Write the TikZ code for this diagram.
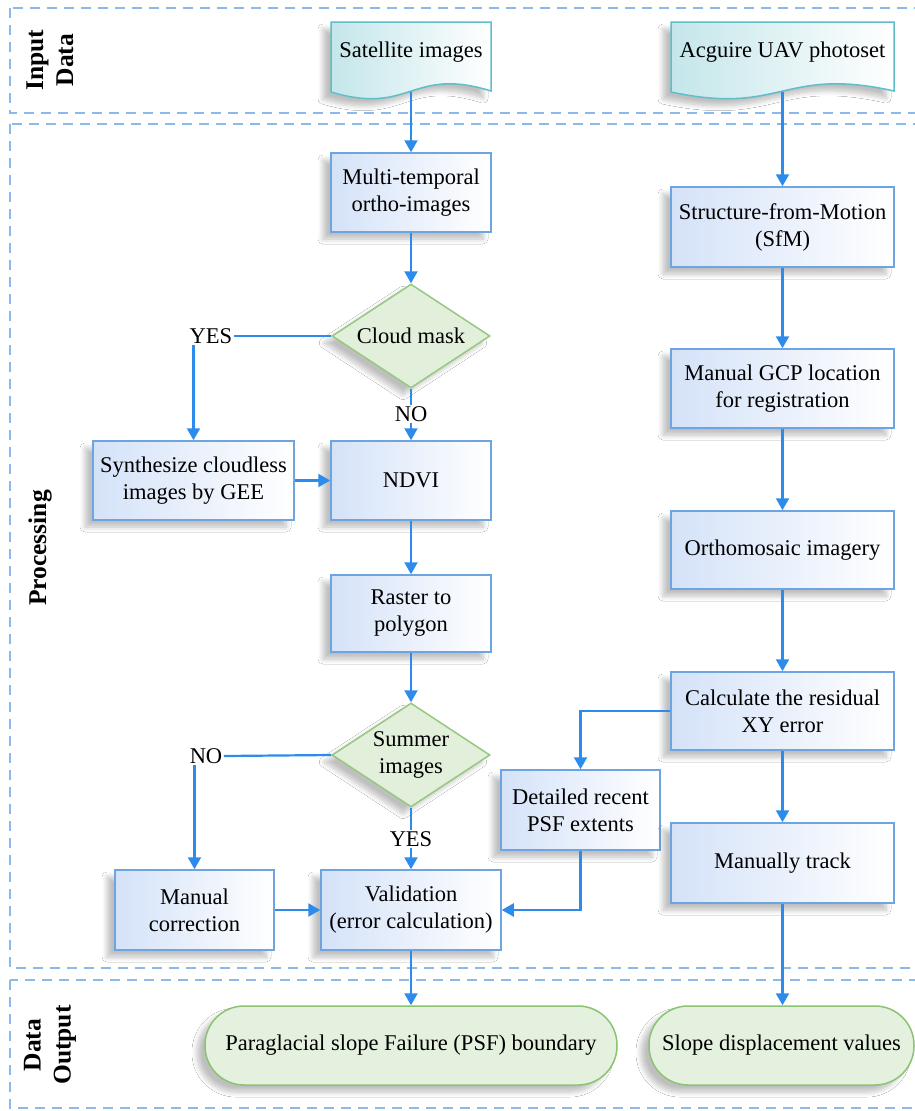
\documentclass[tikz,border=0pt]{standalone}
\usepackage{fontspec}
\setmainfont{Liberation Serif}
\usetikzlibrary{arrows.meta,shapes.geometric,shadows.blur,calc}
\definecolor{arrowblue}{RGB}{45,140,235}
\definecolor{boxline}{RGB}{110,165,225}
\definecolor{boxfill}{RGB}{212,226,248}
\definecolor{docline}{RGB}{95,190,200}
\definecolor{docfill}{RGB}{196,230,234}
\definecolor{dialine}{RGB}{150,200,130}
\definecolor{diafill}{RGB}{226,239,218}
\definecolor{termline}{RGB}{140,195,115}
\definecolor{termfill}{RGB}{228,241,223}
\definecolor{framecol}{RGB}{140,185,235}
\tikzset{
  txt/.style={font=\fontsize{22.5}{27}\selectfont, align=center, text=black},
  shad/.style={blur shadow={shadow xshift=-8pt, shadow yshift=-7pt, shadow opacity=25, shadow blur steps=8, shadow blur radius=5pt}},
  procbox/.style={txt, draw=boxline, line width=1.5pt, left color=boxfill, right color=white, shad, minimum width=#1, minimum height=79pt, inner sep=0pt},
  decision/.style={txt, shape=diamond, draw=dialine, fill=diafill, line width=1.5pt, aspect=1.52, minimum width=158pt, minimum height=104pt, inner sep=0pt, shad},
  term/.style={txt, draw=termline, fill=termfill, line width=1.5pt, rounded corners=39pt, minimum height=79pt, minimum width=#1, shad},
  docshape/.style={shad, draw=docline, line width=1.5pt, left color=docfill, right color=white},
  lab/.style={txt, inner sep=1.5pt},
  sect/.style={font=\fontsize{25.5}{30}\selectfont\bfseries, align=center, rotate=90},
  frame/.style={draw=framecol, line width=1.5pt, dash pattern=on 10pt off 7pt},
  arr/.style={draw=arrowblue, line width=2.2pt, -{Triangle[width=13pt,length=12pt]}},
  ln/.style={draw=arrowblue, line width=2.2pt}
}
\begin{document}
\begin{tikzpicture}[x=1pt,y=-1pt]
\useasboundingbox (0,0) rectangle (915,1111);
\clip (0,0) rectangle (915,1111);
\fill[white] (0,0) rectangle (915,1111);

% frames
\draw[frame] (10,8) rectangle (940,113);
\draw[frame] (10,124) rectangle (940,968);
\draw[frame] (10,980) rectangle (940,1108);

% section labels
\node[sect] (lin) at (50,60) {Input\\Data};
\node[sect] (lproc) at (40,548) {Processing};
\node[sect] (lout) at (50,1045) {Data\\Output};

% input documents
\path[docshape] (331,22) -- (491,22) -- (491,91) .. controls (411,66) and (411,116) .. (331,92) -- cycle;
\node[txt] (sat) at (411,52) {Satellite images};
\coordinate (satb) at (411,92);
\path[docshape] (671,22) -- (894,22) -- (894,91) .. controls (782.5,66) and (782.5,116) .. (671,92) -- cycle;
\node[txt] (uav) at (782.5,52) {Acguire UAV photoset};
\coordinate (uavb) at (782.5,92);

% left column
\node[procbox=160pt] (multi) at (411,192.5) {Multi-temporal\\ortho-images};
\node[decision] (cloud) at (411,336) {Cloud mask};
\node[procbox=201pt] (synth) at (193.5,480.5) {Synthesize cloudless\\images by GEE};
\node[procbox=160pt] (ndvi) at (411,480.5) {NDVI};
\node[procbox=160pt, minimum height=77pt] (raster) at (411,613.5) {Raster to\\polygon};
\node[decision] (summer) at (411,755) {Summer\\images};
\node[procbox=159pt, minimum height=80pt] (manual) at (194.5,910) {Manual\\correction};
\node[procbox=180pt, minimum height=80pt] (valid) at (411,910) {Validation\\(error calculation)};
\node[procbox=159pt, minimum height=80pt] (detail) at (580.5,810) {Detailed recent\\PSF extents};

% right column
\node[procbox=223pt, minimum height=80pt] (sfm) at (782.5,227) {Structure-from-Motion\\(SfM)};
\node[procbox=223pt] (gcp) at (782.5,388.5) {Manual GCP location\\for registration};
\node[procbox=223pt, minimum height=78pt] (ortho) at (782.5,550) {Orthomosaic imagery};
\node[procbox=223pt, minimum height=78pt] (calc) at (782.5,711) {Calculate the residual\\XY error};
\node[procbox=223pt, minimum height=80pt] (track) at (782.5,863) {Manually track};

% outputs
\node[term=412pt] (psf) at (411,1045.5) {Paraglacial slope Failure (PSF) boundary};
\node[term=265pt] (slope) at (781.5,1045.5) {Slope displacement values};

% labels
\node[lab] (yes1) at (211,336) {YES};
\node[lab] (no1) at (411,414) {NO};
\node[lab] (no2) at (206,756) {NO};
\node[lab] (yes2) at (411,839) {YES};

% connectors
\draw[arr] (satb) -- (multi.north);
\draw[arr] (multi.south) -- (cloud.north);
\draw[ln] (cloud.west) -- (yes1.east);
\draw[arr] (synth.north |- yes1.south) -- (synth.north);
\draw[ln] (cloud.south) -- (no1.north);
\draw[arr] (no1.south) -- (ndvi.north);
\draw[arr] (synth.east) -- (ndvi.west);
\draw[arr] (ndvi.south) -- (raster.north);
\draw[arr] (raster.south) -- (summer.north);
\draw[ln] (summer.west) -- (no2.east);
\draw[arr] (manual.north |- no2.south) -- (manual.north);
\draw[ln] (summer.south) -- (summer.south |- yes2.north);
\draw[arr] (valid.north |- yes2.south) -- (valid.north);
\draw[arr] (manual.east) -- (valid.west);
\draw[arr] (detail.south) -- (detail.south |- valid.east) -- (valid.east);
\draw[arr] (calc.west) -- (detail.north |- calc.west) -- (detail.north);
\draw[arr] (uavb) -- (sfm.north);
\draw[arr] (sfm.south) -- (gcp.north);
\draw[arr] (gcp.south) -- (ortho.north);
\draw[arr] (ortho.south) -- (calc.north);
\draw[arr] (calc.south) -- (track.north);
\draw[arr] (track.south) -- (track.south |- slope.north);
\draw[arr] (valid.south) -- (psf.north);
\end{tikzpicture}
\end{document}
